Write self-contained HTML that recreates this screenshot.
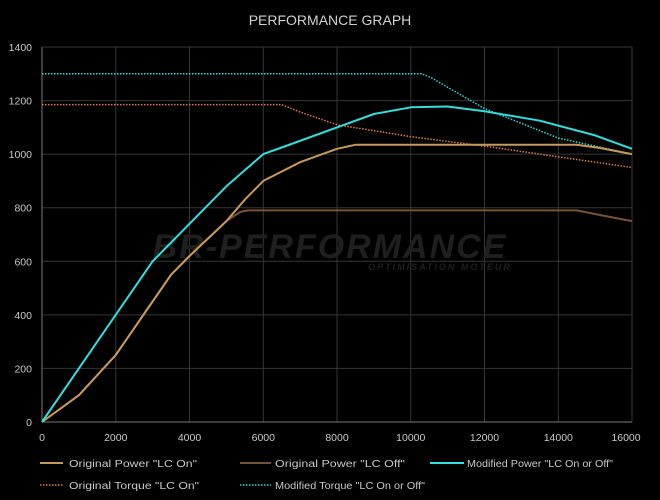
<!DOCTYPE html>
<html><head><style>
body{margin:0;background:#000;}
svg{display:block;font-family:"Liberation Sans",sans-serif;}
</style></head><body>
<svg width="660" height="500" viewBox="0 0 660 500">
<rect width="660" height="500" fill="#000"/>
<text x="330" y="25" text-anchor="middle" fill="#d0d0d0" font-size="14">PERFORMANCE GRAPH</text>
<g stroke="#363636" stroke-width="1">
<line x1="42" y1="47" x2="632" y2="47"/><line x1="42" y1="100.6" x2="632" y2="100.6"/>
<line x1="42" y1="154.1" x2="632" y2="154.1"/><line x1="42" y1="207.7" x2="632" y2="207.7"/>
<line x1="42" y1="261.3" x2="632" y2="261.3"/><line x1="42" y1="314.9" x2="632" y2="314.9"/>
<line x1="42" y1="368.4" x2="632" y2="368.4"/>
<line x1="115.75" y1="47" x2="115.75" y2="422"/><line x1="189.5" y1="47" x2="189.5" y2="422"/>
<line x1="263.3" y1="47" x2="263.3" y2="422"/><line x1="337" y1="47" x2="337" y2="422"/>
<line x1="410.75" y1="47" x2="410.75" y2="422"/><line x1="484.5" y1="47" x2="484.5" y2="422"/>
<line x1="558.3" y1="47" x2="558.3" y2="422"/><line x1="632" y1="47" x2="632" y2="422"/>
</g>
<line x1="42" y1="47" x2="42" y2="422" stroke="#777"/><line x1="42" y1="422" x2="632" y2="422" stroke="#777"/>
<g fill="#c8c8c8" font-size="10.5" text-anchor="end">
<text x="32" y="51">1400</text><text x="32" y="104.6">1200</text><text x="32" y="158">1000</text>
<text x="32" y="211.7">800</text><text x="32" y="265.3">600</text><text x="32" y="318.9">400</text>
<text x="32" y="372.4">200</text><text x="32" y="426">0</text>
</g>
<g fill="#c8c8c8" font-size="10.5" text-anchor="middle">
<text x="42" y="441">0</text><text x="115.75" y="441">2000</text><text x="189.5" y="441">4000</text>
<text x="263.3" y="441">6000</text><text x="337" y="441">8000</text><text x="410.75" y="441">10000</text>
<text x="484.5" y="441">12000</text><text x="558.3" y="441">14000</text><text x="626" y="441">16000</text>
</g>
<text x="330" y="258" text-anchor="middle" fill="#1f1f1f" font-size="34" font-weight="bold" font-style="italic" letter-spacing="2">BR-PERFORMANCE</text>
<text x="440" y="270" text-anchor="middle" fill="#1f1f1f" font-size="9" font-weight="bold" font-style="italic" letter-spacing="2">OPTIMISATION MOTEUR</text>
<g fill="none" stroke-linejoin="round" stroke-width="1.5">
<polyline stroke="#dc7a40" stroke-dasharray="1.5,1.5" points="42,104.6 281.7,104.6 300,112 337,124.7 410.75,136.7 484.5,146.1 558.3,156.8 632,167.5"/>
<polyline stroke="#30d8d8" stroke-dasharray="1.5,1.5" points="42,73.8 421.8,73.8 432,78 447.6,87.2 484.5,108.6 558.3,138.1 632,154.1"/>
<polyline stroke="#7a5232" stroke-width="2" points="42,422 78.9,395.2 115.75,355 152.6,301.5 171.1,274.7 189.5,256 226.4,221.1 240,212 248,210.4 576.7,210.4 600,215 632,221.1"/>
<polyline stroke="#c89a5a" stroke-width="2" points="42,422 78.9,395.2 115.75,355 152.6,301.5 171.1,274.7 189.5,256 226.4,221.1 244.8,199.7 263.3,180.9 300.1,162.2 337,148.8 355.4,144.8 576.7,144.8 600,148 632,154.1"/>
<polyline stroke="#30e0e0" stroke-width="2" points="42,422 152.6,261.3 189.5,223.8 226.4,186.3 263.3,154.1 281.7,147.5 337,127.4 373.9,114 410.75,107.3 447.6,106.5 484.5,111.3 539.8,120.7 595.1,135.4 632,148.8"/>
</g>
<g font-size="10" fill="#c8c8c8">
<line x1="40" y1="463" x2="63" y2="463" stroke="#c89a5a" stroke-width="2"/><text x="69" y="467" textLength="128" lengthAdjust="spacingAndGlyphs">Original Power "LC On"</text>
<line x1="240" y1="463" x2="271" y2="463" stroke="#7a5232" stroke-width="2"/><text x="275" y="467" textLength="130" lengthAdjust="spacingAndGlyphs">Original Power "LC Off"</text>
<line x1="430" y1="463" x2="464" y2="463" stroke="#30e0e0" stroke-width="2"/><text x="467" y="467" textLength="146" lengthAdjust="spacingAndGlyphs">Modified Power "LC On or Off"</text>
<line x1="40" y1="485" x2="63" y2="485" stroke="#dc7a40" stroke-width="1.5" stroke-dasharray="1.5,1.5"/><text x="69" y="489" textLength="130" lengthAdjust="spacingAndGlyphs">Original Torque "LC On"</text>
<line x1="240" y1="485" x2="271" y2="485" stroke="#30d8d8" stroke-width="1.5" stroke-dasharray="1.5,1.5"/><text x="275" y="489" textLength="150" lengthAdjust="spacingAndGlyphs">Modified Torque "LC On or Off"</text>
</g>
</svg>
</body></html>
